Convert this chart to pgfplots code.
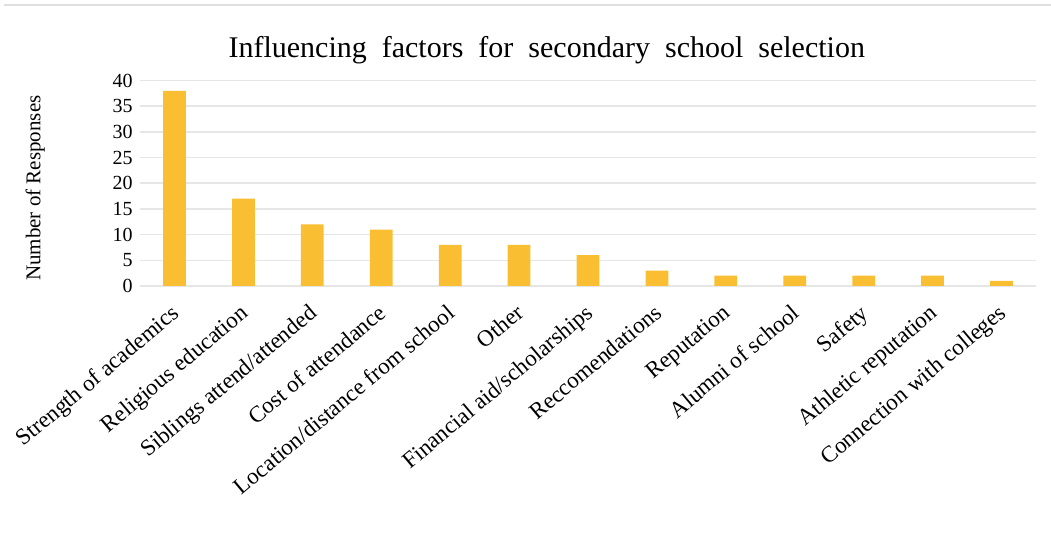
\documentclass[border=0pt]{standalone}
\usepackage{pgfplots}
\pgfplotsset{compat=1.18}
\usepackage{fontspec}
\setmainfont{Liberation Serif}
\definecolor{barcol}{RGB}{249,190,49}
\definecolor{gridcol}{RGB}{230,230,230}
\begin{document}
\begin{tikzpicture}
% canvas: 1 px of the reference = 0.5pt
\useasboundingbox (0,0) rectangle (525.5pt,280pt);
\draw[gray!25, line width=1pt] (2pt,277.5pt) -- (525.5pt,277.5pt);
\begin{axis}[
    at={(70pt,137pt)}, anchor=south west,
    scale only axis,
    width=448pt, height=102.7pt,
    ybar, bar width=0.33,
    xmin=-0.5, xmax=12.5,
    ymin=0, ymax=40,
    ytick={0,5,...,40},
    xtick={0,...,12},
    xticklabels={Strength of academics, Religious education, Siblings attend/attended,
        Cost of attendance, Location/distance from school, Other,
        Financial aid/scholarships, Reccomendations, Reputation, Alumni of school,
        Safety, Athletic reputation, Connection with colleges},
    axis line style={draw=none},
    major tick length=0pt,
    ymajorgrids, grid style={gridcol, line width=0.8pt},
    /pgf/number format/assume math mode=true,
    yticklabel style={font=\fontsize{10}{12}\selectfont, anchor=east, inner sep=0pt, xshift=-3.5pt},
    xticklabel style={font=\fontsize{11.5}{13}\selectfont, rotate=40, anchor=north east, inner sep=0pt, xshift=-7pt, yshift=-5pt},
    title={Influencing\ \ factors\ \ for\ \ secondary\ \ school\ \ selection},
    title style={font=\fontsize{15}{17}\selectfont, at={(axis description cs:0.454,1)}, anchor=south, yshift=-1pt},
    ylabel={Number of Responses},
    ylabel style={font=\fontsize{10.5}{12}\selectfont, at={(axis description cs:-0.117,0.476)}, anchor=center},
]
\addplot[fill=barcol, draw=none] coordinates {
    (0,38) (1,17) (2,12) (3,11) (4,8) (5,8) (6,6) (7,3) (8,2) (9,2) (10,2) (11,2) (12,1)
};
\end{axis}
\end{tikzpicture}
\end{document}
